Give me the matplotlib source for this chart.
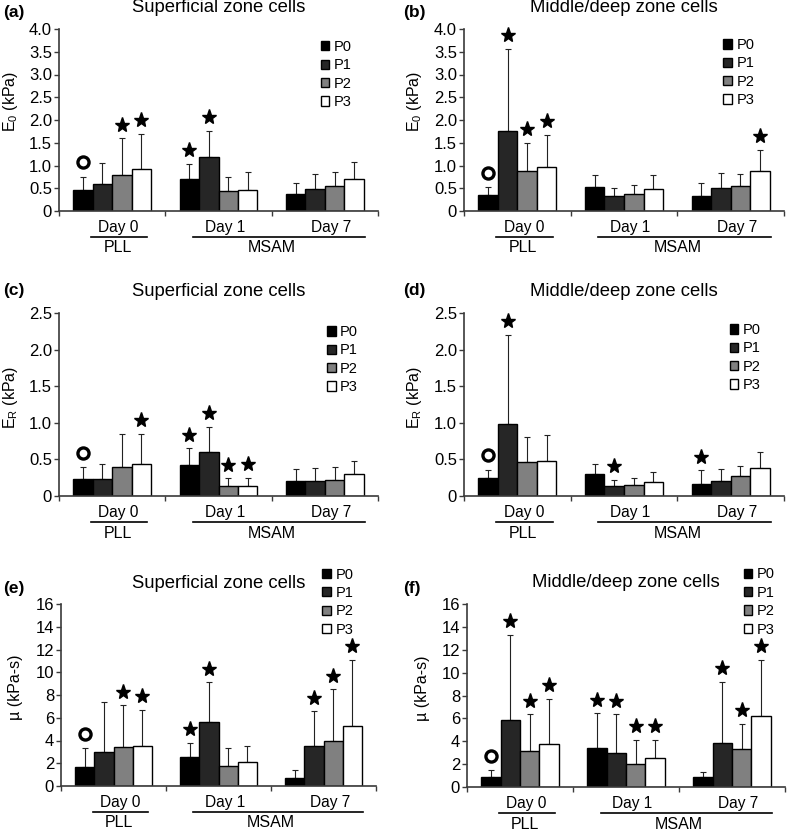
import matplotlib
matplotlib.use("Agg")
import matplotlib.pyplot as plt
import matplotlib.transforms as mtransforms
from matplotlib.patches import Patch
import numpy as np

plt.rcParams['font.family'] = ['Liberation Sans', 'DejaVu Sans']
plt.rcParams['mathtext.fontset'] = 'custom'
plt.rcParams['mathtext.rm'] = 'Liberation Sans'
plt.rcParams['mathtext.it'] = 'Liberation Sans:italic'

days = ['Day 0', 'Day 1', 'Day 7']
passages = ['P0', 'P1', 'P2', 'P3']
colors = ['#000000', '#262626', '#808080', '#ffffff']

# means per day (rows) and passage (cols), upper SD, markers: o = circle, * = star
e0_sup_mean = [[0.47, 0.60, 0.80, 0.92], [0.70, 1.18, 0.43, 0.46], [0.37, 0.48, 0.55, 0.70]]
e0_sup_sd = [[0.28, 0.46, 0.80, 0.78], [0.34, 0.58, 0.32, 0.39], [0.25, 0.33, 0.30, 0.37]]
e0_sup_mark = ['o.**', '**..', '....']

e0_mid_mean = [[0.36, 1.75, 0.89, 0.97], [0.52, 0.32, 0.37, 0.48], [0.33, 0.50, 0.55, 0.88]]
e0_mid_sd = [[0.16, 1.82, 0.61, 0.71], [0.27, 0.18, 0.20, 0.31], [0.28, 0.34, 0.27, 0.47]]
e0_mid_mark = ['o***', '....', '...*']

er_sup_mean = [[0.23, 0.23, 0.39, 0.44], [0.43, 0.60, 0.14, 0.13], [0.20, 0.21, 0.22, 0.30]]
er_sup_sd = [[0.16, 0.21, 0.46, 0.41], [0.22, 0.34, 0.10, 0.12], [0.17, 0.17, 0.18, 0.18]]
er_sup_mark = ['o..*', '****', '....']

er_mid_mean = [[0.25, 0.99, 0.46, 0.48], [0.30, 0.13, 0.15, 0.19], [0.17, 0.21, 0.27, 0.38]]
er_mid_sd = [[0.11, 1.21, 0.34, 0.35], [0.14, 0.09, 0.10, 0.14], [0.18, 0.16, 0.14, 0.22]]
er_mid_mark = ['o*..', '.*..', '*...']

mu_sup_mean = [[1.7, 3.0, 3.4, 3.5], [2.55, 5.6, 1.8, 2.1], [0.7, 3.55, 3.95, 5.25]]
mu_sup_sd = [[1.6, 4.4, 3.7, 3.2], [1.25, 3.5, 1.5, 1.4], [0.7, 3.0, 4.55, 5.85]]
mu_sup_mark = ['o.**', '**..', '.***']

mu_mid_mean = [[0.85, 5.85, 3.15, 3.8], [3.45, 3.0, 2.05, 2.55], [0.85, 3.85, 3.35, 6.25]]
mu_mid_sd = [[0.6, 7.45, 3.2, 3.9], [3.0, 3.35, 2.1, 1.6], [0.5, 5.35, 2.15, 4.85]]
mu_mid_mark = ['o***', '****', '.***']

W, H = 787, 831
fig = plt.figure(figsize=(W / 100, H / 100), dpi=100)


def px_axes(left, top, right, bottom):
    return fig.add_axes([left / W, 1 - bottom / H, (right - left) / W, (bottom - top) / H])


def panel(ax, title, ylabel, mean, sd, marks, ymax, ystep, yfmt, ylab_xy, leg_xy):
    mean = np.array(mean)
    sd = np.array(sd)
    x = np.arange(len(days))
    w = 0.183
    for j in range(4):
        xs = x + (j - 1.5) * w
        ax.bar(xs, mean[:, j], w, color=colors[j], edgecolor='black', linewidth=1.0, zorder=2)
        ax.errorbar(xs, mean[:, j], yerr=[np.zeros(3), sd[:, j]], fmt='none',
                    ecolor='#222222', elinewidth=0.8, capsize=2.2, capthick=0.8, zorder=1)
        for i in range(3):
            m = marks[i][j]
            top = mean[i, j] + sd[i, j]
            if m == '*':
                ax.plot(xs[i], top + 0.075 * ymax, marker='*', ms=11, color='black',
                        clip_on=False, zorder=3)
            elif m == 'o':
                ax.plot(xs[i], top + 0.08 * ymax, marker='o', ms=8, mfc='white',
                        mec='black', mew=2.4, clip_on=False, zorder=3)

    ax.set_xlim(-0.5, 2.5)
    ax.set_ylim(0, ymax)
    ticks = np.arange(0, ymax + ystep / 2, ystep)
    ax.set_yticks(ticks)
    ax.set_yticklabels(['0'] + [yfmt.format(t) for t in ticks[1:]])
    ax.set_xticks([-0.5, 0.5, 1.5, 2.5])
    ax.set_xticklabels([])
    for s in ['top', 'right']:
        ax.spines[s].set_visible(False)
    for s in ['left', 'bottom']:
        ax.spines[s].set_color('#3a3a3a')
        ax.spines[s].set_linewidth(1.2)
    ax.tick_params(axis='both', direction='out', length=3.5, width=1.0,
                   color='#3a3a3a', labelsize=12, pad=1.5)

    ax.set_ylabel(ylabel, fontsize=11.5)
    ax.yaxis.set_label_coords(*ylab_xy)

    ax.text(0.5, 1 + 21 / 182, title, transform=ax.transAxes, ha='center',
            va='center', fontsize=13.3)

    tr = mtransforms.blended_transform_factory(ax.transData, ax.transAxes)
    for i, d in enumerate(days):
        ax.text(i + 0.06, -0.088, d, transform=tr, ha='center', va='center', fontsize=11.2)
    ax.plot([-0.2, 0.33], [-0.143, -0.143], transform=tr, color='black', lw=1.2, clip_on=False)
    ax.plot([0.76, 2.38], [-0.143, -0.143], transform=tr, color='black', lw=1.2, clip_on=False)
    ax.text(0.05, -0.203, 'PLL', transform=tr, ha='center', va='center', fontsize=11.5)
    ax.text(1.5, -0.203, 'MSAM', transform=tr, ha='center', va='center', fontsize=11.5)

    handles = [Patch(facecolor=c, edgecolor='black', linewidth=1.0) for c in colors]
    ax.legend(handles, passages, loc='upper left', bbox_to_anchor=leg_xy, frameon=False,
              fontsize=10.5, handlelength=0.6, handleheight=0.6, handletextpad=0.3,
              labelspacing=0.3, borderpad=0, borderaxespad=0)


axes = {
    'a': px_axes(59, 29, 378, 211),
    'b': px_axes(464, 29, 784, 211),
    'c': px_axes(59, 313, 378, 496),
    'd': px_axes(464, 313, 784, 496),
    'e': px_axes(61, 604, 376, 786),
    'f': px_axes(467, 604, 785, 787),
}

e0_lab = r'E$_\mathrm{0}$ (kPa)'
er_lab = r'E$_\mathrm{R}$ (kPa)'
mu_lab = 'µ (kPa-s)'
sup = 'Superficial zone cells'
mid = 'Middle/deep zone cells'

panel(axes['a'], sup, e0_lab, e0_sup_mean, e0_sup_sd, e0_sup_mark, 4.0, 0.5, '{:.1f}',
      (-0.122, 0.6), (0.82, 0.94))
panel(axes['b'], mid, e0_lab, e0_mid_mean, e0_mid_sd, e0_mid_mark, 4.0, 0.5, '{:.1f}',
      (-0.125, 0.6), (0.81, 0.95))
panel(axes['c'], sup, er_lab, er_sup_mean, er_sup_sd, er_sup_mark, 2.5, 0.5, '{:.1f}',
      (-0.122, 0.54), (0.84, 0.934))
panel(axes['d'], mid, er_lab, er_mid_mean, er_mid_sd, er_mid_mark, 2.5, 0.5, '{:.1f}',
      (-0.125, 0.54), (0.83, 0.945))
panel(axes['e'], sup, mu_lab, mu_sup_mean, mu_sup_sd, mu_sup_mark, 16, 2, '{:.0f}',
      (-0.12, 0.54), (0.83, 1.2))
panel(axes['f'], mid, mu_lab, mu_mid_mean, mu_mid_sd, mu_mid_mark, 16, 2, '{:.0f}',
      (-0.116, 0.54), (0.87, 1.2))

letters = [('(a)', 3, 12), ('(b)', 403, 12), ('(c)', 3, 290),
           ('(d)', 403, 290), ('(e)', 3, 588), ('(f)', 403, 588)]
for t, lx, ly in letters:
    fig.text(lx / W, 1 - ly / H, t, ha='left', va='center', fontsize=12.5, fontweight='bold')

fig.savefig('out.png', dpi=100)
